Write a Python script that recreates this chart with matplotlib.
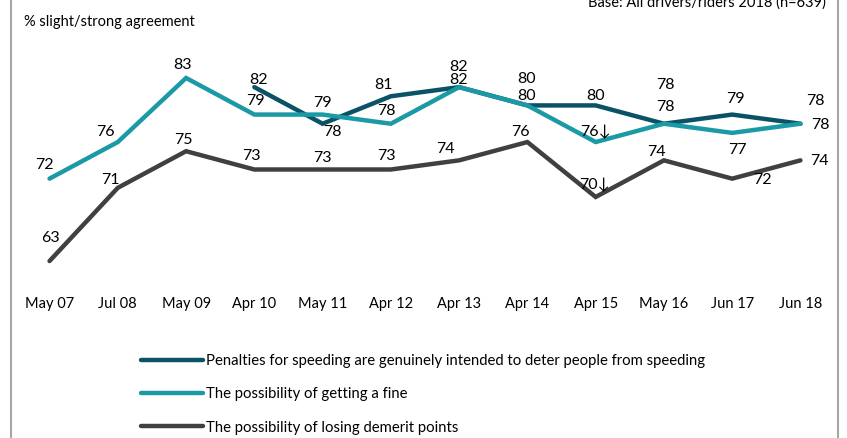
import numpy as np
import matplotlib
matplotlib.use("Agg")
import matplotlib.pyplot as plt
from matplotlib.lines import Line2D

plt.rcParams['font.family'] = ['Lato', 'DejaVu Sans']

periods = ["May 07", "Jul 08", "May 09", "Apr 10", "May 11", "Apr 12",
           "Apr 13", "Apr 14", "Apr 15", "May 16", "Jun 17", "Jun 18"]
penalties = [np.nan, np.nan, np.nan, 82, 78, 81, 82, 80, 80, 78, 79, 78]
fine = [72, 76, 83, 79, 79, 78, 82, 80, 76, 78, 77, 78]
demerit = [63, 71, 75, 73, 73, 73, 74, 76, 70, 74, 72, 74]
# marks for a significant drop versus the previous wave
fine_drop = [False] * 8 + [True] + [False] * 3
demerit_drop = [False] * 8 + [True] + [False] * 3

names = ["Penalties for speeding are genuinely intended to deter people from speeding",
         "The possibility of getting a fine",
         "The possibility of losing demerit points"]
colors = ["#0a5266", "#1b9aa5", "#404040"]

# label offsets in pixels (dx, dy) relative to each point
off_pen = [None, None, None, (4, 7), (10, -8), (-7, 11), (-1, 20), (-1, 26), (0, 9), (1, 39), (3, 16), (15, 23)]
off_fine = [(-5, 14), (-12, 10), (-4, 13), (1, 14), (0, 12), (-4, 13), (-1, 7), (-1, 9), (0, 10), (1, 17), (5, -17), (20, -1)]
off_dem = [(1, 23), (-7, 8), (-3, 11), (-3, 13), (0, 11), (-4, 13), (-14, 11), (-7, 10), (-1, 12), (-7, 8), (30, -1), (19, -1)]

W, H = 847, 438
fig = plt.figure(figsize=(W / 100, H / 100), dpi=100)
ax = fig.add_axes([12 / W, 1 - 288.5 / H, (838 - 12) / W, (288.5 - 50.5) / H])
x = np.arange(len(periods))

series = [(penalties, off_pen, None), (fine, off_fine, fine_drop), (demerit, off_dem, demerit_drop)]
for (vals, offs, drops), name, col in zip(series, names, colors):
    ax.plot(x, vals, color=col, lw=3.2, solid_capstyle='round', solid_joinstyle='miter', label=name)
    for i, v in enumerate(vals):
        if np.isnan(v):
            continue
        txt = f"{int(v)}"
        if drops is not None and drops[i]:
            txt += "\u2193"
        dx, dy = offs[i]
        ax.annotate(txt, (x[i], v), xytext=(dx * 0.72, dy * 0.72), textcoords='offset points',
                    ha='center', va='center', fontsize=11.5, color='black')

ax.set_xlim(-0.55, 11.55)
ax.set_ylim(60, 86)
ax.set_xticks(x)
ax.set_xticklabels(periods, fontsize=10.5)
ax.tick_params(axis='x', length=0, pad=6)
ax.set_yticks([])
for s in ax.spines.values():
    s.set_visible(False)

fig.text(24 / W, 1 - 22 / H, "% slight/strong agreement", fontsize=10.5, va='center', ha='left')
fig.text(826 / W, 1 - 3 / H, "Base: All drivers/riders 2018 (n=639)", fontsize=10.5, va='center', ha='right')

# outer frame edges
for px in (11, 838):
    fig.add_artist(Line2D([px / W, px / W], [0, 1], color='#a6a6a6', lw=1.5))

handles = [Line2D([], [], color=c, lw=3.2, solid_capstyle='round') for c in colors]
fig.legend(handles, names, loc='upper left', bbox_to_anchor=(141 / W, 1 - 354 / H),
           frameon=False, fontsize=10.7, handlelength=4.2, handletextpad=0.2,
           labelspacing=1.3, borderaxespad=0, borderpad=0)

fig.savefig("out.png", dpi=100)
